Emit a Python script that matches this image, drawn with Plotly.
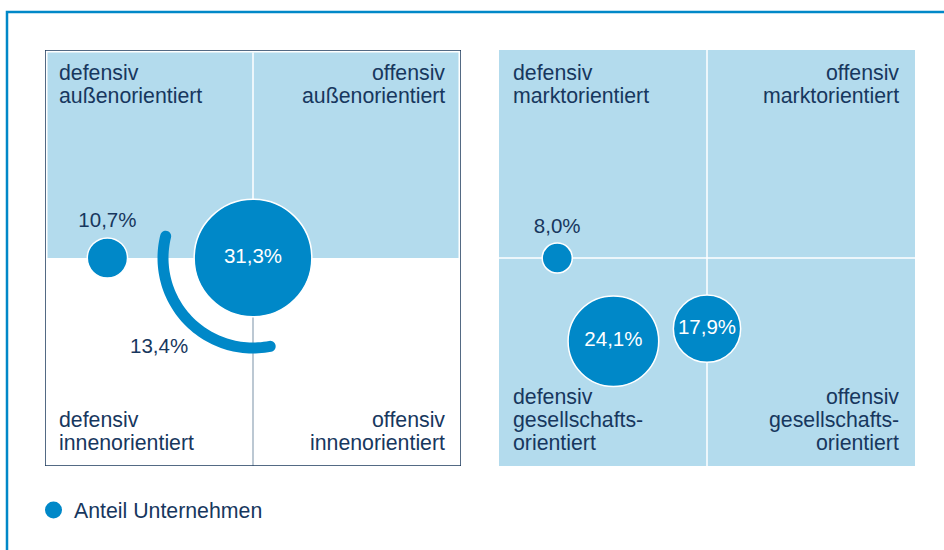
import math
import plotly.graph_objects as go

# ---------------- data ----------------
left_values = [10.7, 31.3]          # Anteil Unternehmen, linke Matrix
left_x = [-0.70, 0.0]
left_y = [0.0, 0.0]
arc_value = 13.4                    # Bogen um die große Blase

right_values = [8.0, 24.1, 17.9]    # Anteil Unternehmen, rechte Matrix
right_x = [-0.72, -0.45, 0.0]
right_y = [0.0, -0.40, -0.34]

left_quadrants = {
    "tl": ["defensiv", "außenorientiert"],
    "tr": ["offensiv", "außenorientiert"],
    "bl": ["defensiv", "innenorientiert"],
    "br": ["offensiv", "innenorientiert"],
}
right_quadrants = {
    "tl": ["defensiv", "marktorientiert"],
    "tr": ["offensiv", "marktorientiert"],
    "bl": ["defensiv", "gesellschafts-", "orientiert"],
    "br": ["offensiv", "gesellschafts-", "orientiert"],
}
legend_label = "Anteil Unternehmen"

# ---------------- style ----------------
W, H = 944, 550
BLUE = "#0088c8"
LIGHT = "#b3dbed"
NAVY = "#17375e"
GRAYLINE = "#8fa3b6"
FONT = "Liberation Sans, Arial, sans-serif"
PX_PER_VALUE = 3.76          # bubble diameter in px per percentage point
PANEL = 416                  # panel size in px
UNIT = PANEL / 2             # px per axis unit
LEFT_X0, RIGHT_X0, PANEL_Y0 = 45, 499, 50


def fmt(v):
    return f"{v:.1f}".replace(".", ",") + "%"


def px(x):
    return x / W


def py(y):
    return 1 - y / H


fig = go.Figure()

# bubbles
fig.add_trace(go.Scatter(
    x=left_x, y=left_y, xaxis="x", yaxis="y", mode="markers+text",
    marker=dict(size=[v * PX_PER_VALUE for v in left_values], color=BLUE,
                line=dict(color="white", width=1.5), opacity=1),
    text=[fmt(v) for v in left_values],
    textposition=["top center", "middle center"],
    textfont=dict(family=FONT, size=20.5, color=[NAVY, "white"]),
    hoverinfo="skip", showlegend=False, cliponaxis=False,
))
fig.add_trace(go.Scatter(
    x=right_x, y=right_y, xaxis="x2", yaxis="y2", mode="markers+text",
    marker=dict(size=[v * PX_PER_VALUE for v in right_values], color=BLUE,
                line=dict(color="white", width=1.5), opacity=1),
    text=[fmt(v) for v in right_values],
    textposition=["top center", "middle center", "middle center"],
    textfont=dict(family=FONT, size=20.5, color=[NAVY, "white", "white"]),
    hoverinfo="skip", showlegend=False, cliponaxis=False,
))

shapes = []
# left panel: light blue upper half, divider lines, border
inset = 2.5 / UNIT
shapes.append(dict(type="rect", xref="x", yref="y", x0=-1 + inset, x1=1 - inset,
                   y0=0, y1=1 - inset, fillcolor=LIGHT, line=dict(width=0), layer="below"))
shapes.append(dict(type="line", xref="x", yref="y", x0=0, x1=0, y0=0, y1=1 - inset,
                   line=dict(color="white", width=1.5), layer="below"))
shapes.append(dict(type="line", xref="x", yref="y", x0=0, x1=0, y0=-1, y1=0,
                   line=dict(color=GRAYLINE, width=1.2), layer="below"))
shapes.append(dict(type="rect", xref="x", yref="y", x0=-1, x1=1, y0=-1, y1=1,
                   line=dict(color="#1d3a5c", width=1.5), layer="below"))

# arc around the big bubble (center at the 31,3% bubble)
cx, cy = left_x[1], left_y[1]
R = 90 / UNIT
w = 5.5 / UNIT
t1, t2 = math.radians(166), math.radians(281)
n = 60
pts = []
for i in range(n + 1):
    t = t1 + (t2 - t1) * i / n
    pts.append((cx + (R + w) * math.cos(t), cy + (R + w) * math.sin(t)))
# end cap at t2
P = (cx + R * math.cos(t2), cy + R * math.sin(t2))
u = (math.cos(t2), math.sin(t2))
tv = (-math.sin(t2), math.cos(t2))
for i in range(1, 16):
    f = math.pi * i / 16
    pts.append((P[0] + w * (math.cos(f) * u[0] + math.sin(f) * tv[0]),
                P[1] + w * (math.cos(f) * u[1] + math.sin(f) * tv[1])))
for i in range(n + 1):
    t = t2 - (t2 - t1) * i / n
    pts.append((cx + (R - w) * math.cos(t), cy + (R - w) * math.sin(t)))
P = (cx + R * math.cos(t1), cy + R * math.sin(t1))
u = (math.cos(t1), math.sin(t1))
tv = (-math.sin(t1), math.cos(t1))
for i in range(1, 16):
    f = math.pi * i / 16
    pts.append((P[0] + w * (-math.cos(f) * u[0] - math.sin(f) * tv[0]),
                P[1] + w * (-math.cos(f) * u[1] - math.sin(f) * tv[1])))
path = "M " + " L ".join(f"{x:.5f},{y:.5f}" for x, y in pts) + " Z"
shapes.append(dict(type="path", xref="x", yref="y", path=path, fillcolor=BLUE,
                   line=dict(width=0), layer="below"))

# right panel: full light blue with white cross
shapes.append(dict(type="rect", xref="x2", yref="y2", x0=-1, x1=1, y0=-1, y1=1,
                   fillcolor=LIGHT, line=dict(width=0), layer="below"))
shapes.append(dict(type="line", xref="x2", yref="y2", x0=0, x1=0, y0=-1, y1=1,
                   line=dict(color="white", width=1.5), layer="below"))
shapes.append(dict(type="line", xref="x2", yref="y2", x0=-1, x1=1, y0=0, y1=0,
                   line=dict(color="white", width=1.5), layer="below"))

# outer frame (left and top edges)
shapes.append(dict(type="path", xref="paper", yref="paper",
                   path=f"M {px(7)},0 L {px(7)},{py(12)} L 1,{py(12)}",
                   line=dict(color=BLUE, width=2.5)))

# legend dot
shapes.append(dict(type="circle", xref="paper", yref="paper",
                   x0=px(45), x1=px(62), y0=py(518.5), y1=py(501.5),
                   fillcolor=BLUE, line=dict(width=0)))

annotations = []
# arc label
ang = math.radians(223)
annotations.append(dict(xref="x", yref="y", x=cx + (R + 38 / UNIT) * math.cos(ang),
                        y=cy + (R + 38 / UNIT) * math.sin(ang), text=fmt(arc_value),
                        showarrow=False, font=dict(family=FONT, size=20.5, color=NAVY)))

LINE = 23.2
FS = 21.3


def add_quadrant_labels(quads, x0):
    x_left = x0 + 12
    x_right = x0 + PANEL - 14
    top_first = 73
    bottom_last = 443
    for key, lines in quads.items():
        right = key.endswith("r")
        for i, line in enumerate(lines):
            if key.startswith("t"):
                yc = top_first + i * LINE
            else:
                yc = bottom_last - (len(lines) - 1 - i) * LINE
            annotations.append(dict(
                xref="paper", yref="paper", x=px(x_right if right else x_left), y=py(yc),
                xanchor="right" if right else "left", yanchor="middle",
                text=line, showarrow=False,
                font=dict(family=FONT, size=FS, color=NAVY)))


add_quadrant_labels(left_quadrants, LEFT_X0)
add_quadrant_labels(right_quadrants, RIGHT_X0)

annotations.append(dict(xref="paper", yref="paper", x=px(72), y=py(511),
                        xanchor="left", yanchor="middle", text=legend_label,
                        showarrow=False, font=dict(family=FONT, size=FS, color=NAVY)))

ax = dict(range=[-1, 1], visible=False, showgrid=False, zeroline=False, fixedrange=True)
ydom = [py(PANEL_Y0 + PANEL), py(PANEL_Y0)]
fig.update_layout(
    width=W, height=H,
    margin=dict(l=0, r=0, t=0, b=0),
    paper_bgcolor="white", plot_bgcolor="rgba(0,0,0,0)",
    xaxis=dict(ax, domain=[px(LEFT_X0), px(LEFT_X0 + PANEL)]),
    yaxis=dict(ax, domain=ydom),
    xaxis2=dict(ax, domain=[px(RIGHT_X0), px(RIGHT_X0 + PANEL)]),
    yaxis2=dict(ax, domain=ydom),
    shapes=shapes, annotations=annotations,
    showlegend=False, hovermode=False,
    font=dict(family=FONT, color=NAVY),
)

fig.write_html("out.html", config={"displayModeBar": False},
               post_script="document.body.style.margin='0';document.body.style.overflow='hidden';")
